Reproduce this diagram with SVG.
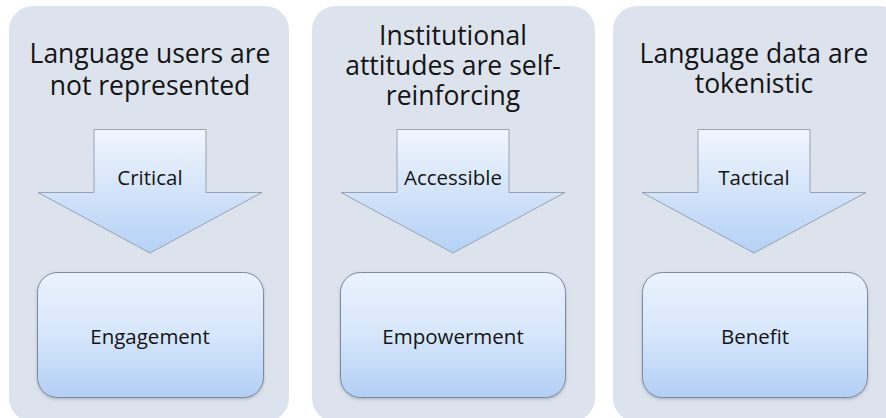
<svg xmlns="http://www.w3.org/2000/svg" width="886" height="418" viewBox="0 0 886 418">
  <defs>
    <linearGradient id="arrowFill" x1="0" y1="0" x2="0" y2="1">
      <stop offset="0" stop-color="#f1f6fd"/>
      <stop offset="1" stop-color="#b5d1f6"/>
    </linearGradient>
    <linearGradient id="boxFill" x1="0" y1="0" x2="0" y2="1">
      <stop offset="0" stop-color="#eaf2fd"/>
      <stop offset="0.5" stop-color="#d6e6fb"/>
      <stop offset="1" stop-color="#b3cff5"/>
    </linearGradient>
    <filter id="soft" x="-10%" y="-10%" width="120%" height="125%">
      <feDropShadow dx="0" dy="1.5" stdDeviation="1.5" flood-color="#5a6678" flood-opacity="0.35"/>
    </filter>
  </defs>
  <style>
    .panel { fill: #dde3ed; }
    .title { font-family: "Open Sans", "Noto Sans", sans-serif; font-size: 26.5px; fill: #141414; text-anchor: middle; }
    .label { font-family: "Open Sans", "Noto Sans", sans-serif; font-size: 20.5px; fill: #141414; text-anchor: middle; }
    .arrow { fill: url(#arrowFill); stroke: #97a2b2; stroke-width: 1; }
    .box { fill: url(#boxFill); stroke: #7d8a9c; stroke-width: 1; filter: url(#soft); }
  </style>

  <rect width="886" height="418" fill="#ffffff"/>

  <!-- column backgrounds with headings -->
  <g id="panel-users">
    <rect class="panel" x="9" y="6" width="280" height="416" rx="24"/>
    <text class="title" x="150" y="63">Language users are</text>
    <text class="title" x="150" y="95">not represented</text>
  </g>
  <g id="panel-institutional">
    <rect class="panel" x="312" y="6" width="283" height="416" rx="24"/>
    <text class="title" x="453" y="45">Institutional</text>
    <text class="title" x="453" y="75">attitudes are self-</text>
    <text class="title" x="453" y="105">reinforcing</text>
  </g>
  <g id="panel-data">
    <rect class="panel" x="613" y="6" width="290" height="416" rx="24"/>
    <text class="title" x="754" y="63">Language data are</text>
    <text class="title" x="754" y="93">tokenistic</text>
  </g>

  <!-- outcome boxes -->
  <g id="node-engagement">
    <rect class="box" x="37.5" y="272.5" width="226" height="125" rx="20"/>
    <text class="label" x="150" y="344">Engagement</text>
  </g>
  <g id="node-empowerment">
    <rect class="box" x="340.5" y="272.5" width="225" height="125" rx="20"/>
    <text class="label" x="453" y="344">Empowerment</text>
  </g>
  <g id="node-benefit">
    <rect class="box" x="642.5" y="272.5" width="225" height="125" rx="20"/>
    <text class="label" x="755" y="344">Benefit</text>
  </g>

  <!-- block arrows leading from each heading to its outcome -->
  <g id="connectors">
    <g id="arrow-critical">
      <path class="arrow" d="M94 129.5 H206 V192.5 H262 L150 253 L38 192.5 H94 Z"/>
      <text class="label" x="150" y="185">Critical</text>
    </g>
    <g id="arrow-accessible">
      <path class="arrow" d="M397 129.5 H509 V192.5 H565 L453 253 L341 192.5 H397 Z"/>
      <text class="label" x="453" y="185">Accessible</text>
    </g>
    <g id="arrow-tactical">
      <path class="arrow" d="M698 129.5 H810 V192.5 H866 L754 253 L642 192.5 H698 Z"/>
      <text class="label" x="754" y="185">Tactical</text>
    </g>
  </g>
</svg>
